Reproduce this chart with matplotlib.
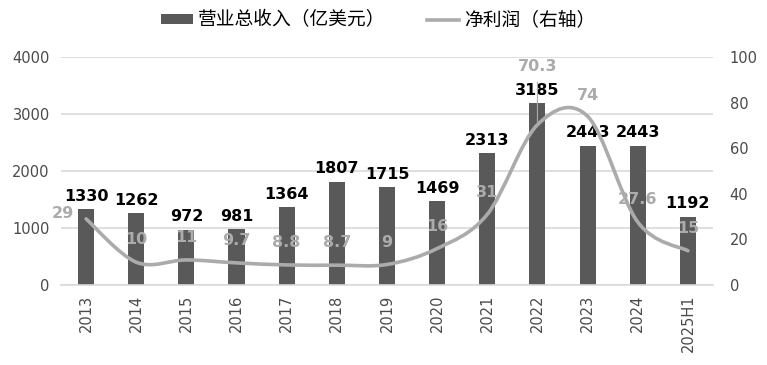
import matplotlib
matplotlib.use('Agg')
import matplotlib.pyplot as plt
from matplotlib.path import Path
from matplotlib.patches import PathPatch
from matplotlib.lines import Line2D
import numpy as np

plt.rcParams['font.family'] = ['DejaVu Sans', 'Noto Sans CJK SC']

years = ['2013', '2014', '2015', '2016', '2017', '2018', '2019', '2020',
         '2021', '2022', '2023', '2024', '2025H1']
revenue = [1330, 1262, 972, 981, 1364, 1807, 1715, 1469, 2313, 3185, 2443, 2443, 1192]
profit = [29, 10, 11, 9.7, 8.8, 8.7, 9, 16, 31, 70.3, 74, 27.6, 15]
profitText = ['29', '10', '11', '9.7', '8.8', '8.7', '9', '16', '31', '70.3', '74', '27.6', '15']
revLabel = '营业总收入（亿美元）'
profitLabel = '净利润（右轴）'

barColor = '#595959'
lineColor = '#ABABAB'
gridColor = '#D9D9D9'
tickColor = '#4A4A4A'

# label offsets in points for the profit labels (dx, dy)
profitOffsets = {0: (-17, 4), 9: (0, 42), 10: (0, 15), 11: (0, 16)}


def smoothPath(xs, ys):
  # Excel-like smoothed line as cubic bezier segments
  pts = np.column_stack([xs, ys]).astype(float)
  n = len(pts)
  verts = [pts[0]]
  codes = [Path.MOVETO]
  for i in range(n - 1):
    p0 = pts[max(i - 1, 0)]
    p1 = pts[i]
    p2 = pts[i + 1]
    p3 = pts[min(i + 2, n - 1)]
    c1 = p1 + (p2 - p0) / 6.0
    c2 = p2 - (p3 - p1) / 6.0
    verts += [c1, c2, p2]
    codes += [Path.CURVE4] * 3
  return Path(verts, codes)


fig = plt.figure(figsize=(7.67, 3.65), dpi=100)
ax = fig.add_axes([0.0795, 0.2192, 0.8501, 0.6246])
ax2 = ax.twinx()

x = np.arange(len(years))
bars = ax.bar(x, revenue, width=0.32, color=barColor, zorder=2)
ax.set_xlim(-0.5, len(years) - 0.5)
ax.set_ylim(0, 4000)
ax.set_yticks(range(0, 4001, 1000))
ax.grid(axis='y', color=gridColor, linewidth=1.2, zorder=0)
ax.set_axisbelow(True)
ax.set_xticks(x)
ax.set_xticklabels(years, rotation=90, fontsize=10.5, color=tickColor)
ax.tick_params(axis='y', labelsize=10.5, labelcolor=tickColor, length=0, pad=8)
ax.tick_params(axis='x', length=0, pad=7)
for s in ['top', 'left', 'right']:
  ax.spines[s].set_visible(False)
ax.spines['bottom'].set_color(gridColor)
ax.spines['bottom'].set_linewidth(1.2)

for xi, v in zip(x, revenue):
  ax.annotate(str(v), (xi, v), xytext=(0, 4), textcoords='offset points',
              ha='center', va='bottom', fontsize=11.5, fontweight='bold', color='black')

ax2.set_ylim(0, 100)
ax2.set_yticks(range(0, 101, 20))
ax2.tick_params(axis='y', labelsize=10.5, labelcolor=tickColor, length=0, pad=12)
for s in ['top', 'left', 'right', 'bottom']:
  ax2.spines[s].set_visible(False)

ax2.add_patch(PathPatch(smoothPath(x, profit), fill=False, edgecolor=lineColor,
                        linewidth=2.6, capstyle='round', joinstyle='round'))

for i, (xi, v, t) in enumerate(zip(x, profit, profitText)):
  dx, dy = profitOffsets.get(i, (0, 16))
  arrow = None
  if i == 9:
    arrow = dict(arrowstyle='-', color=lineColor, lw=0.8, shrinkA=4, shrinkB=2)
  ax2.annotate(t, (xi, v), xytext=(dx, dy), textcoords='offset points',
               ha='center', va='center', fontsize=11.5, fontweight='bold',
               color=lineColor, arrowprops=arrow)

handles = [bars, Line2D([], [], color=lineColor, linewidth=2.6)]
fig.legend(handles, [revLabel, profitLabel], loc='upper center',
           bbox_to_anchor=(0.493, 1.02), ncol=2, frameon=False,
           prop={'family': ['Noto Sans CJK SC'], 'size': 13.5},
           handlelength=1.7, handleheight=0.45, handletextpad=0.3, columnspacing=2.2)

fig.savefig('out.png', dpi=100)
